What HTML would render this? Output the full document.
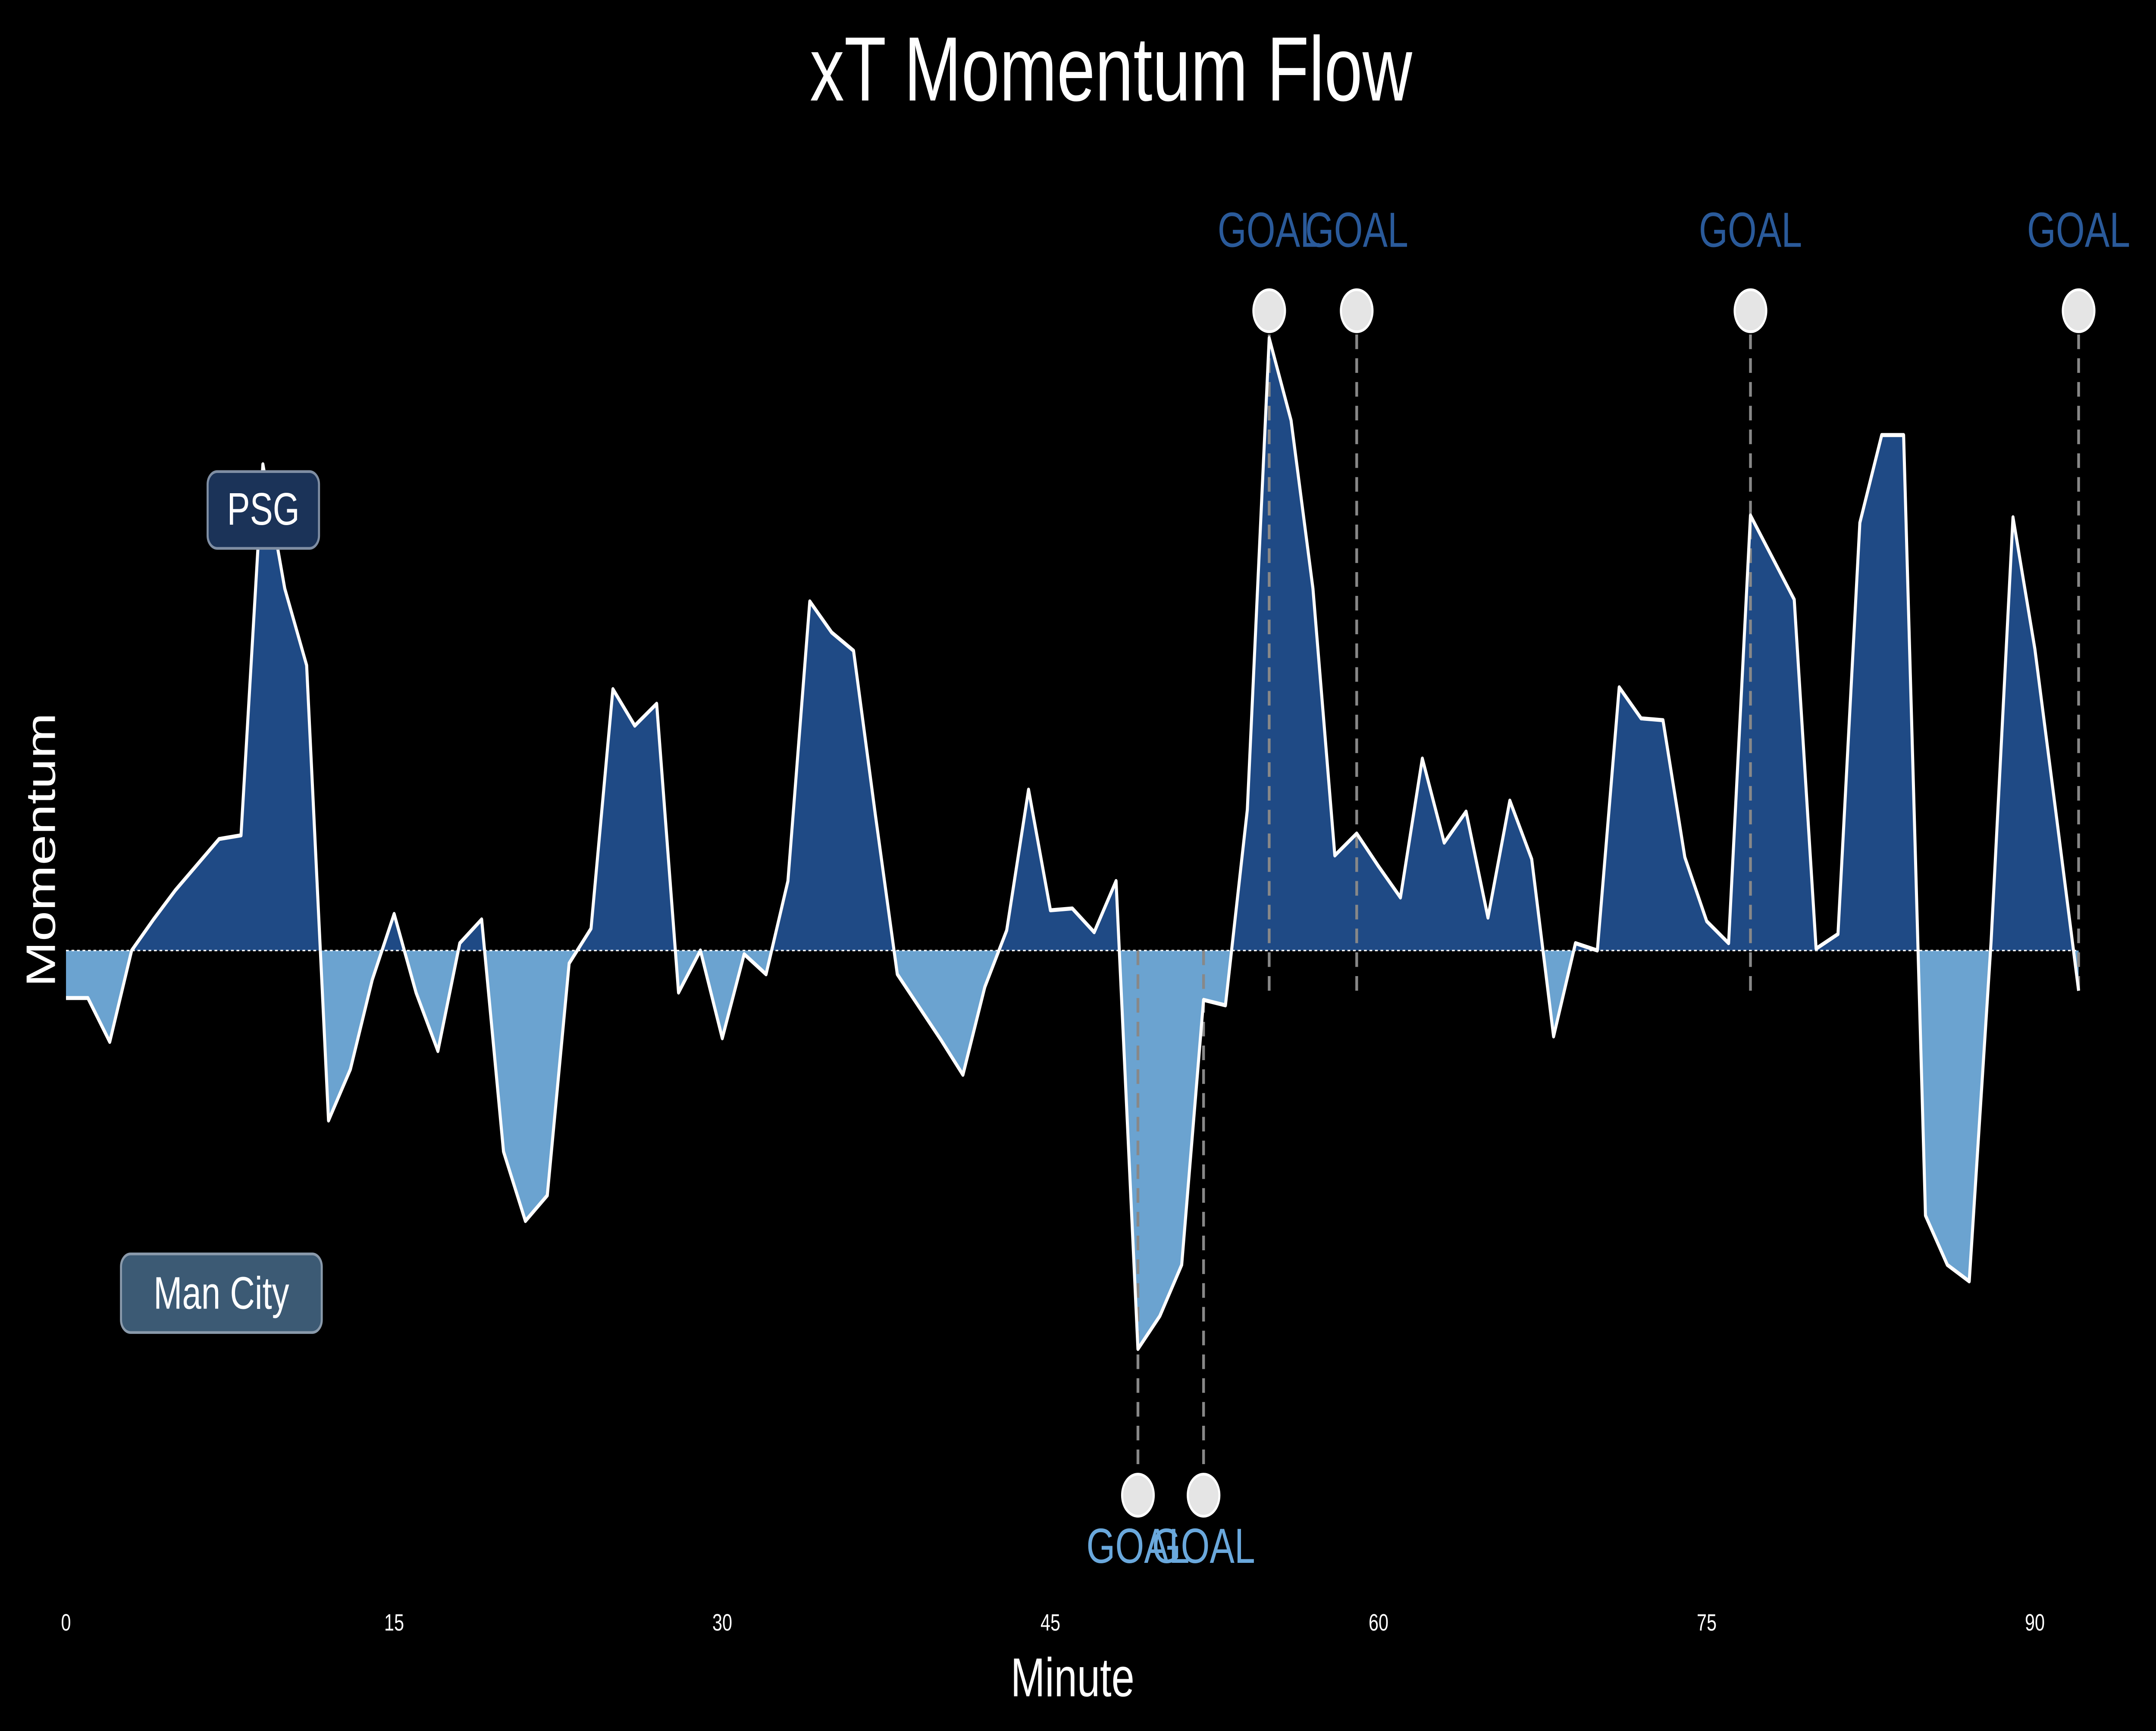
<!DOCTYPE html>
<html><head><meta charset="utf-8">
<style>
html,body{margin:0;padding:0;background:#000;width:100%;height:100%;overflow:hidden;}
svg{display:block;position:absolute;left:0;top:0;width:100vw;height:100vh;}
text{font-family:"Liberation Sans","DejaVu Sans",sans-serif;}
</style></head>
<body>
<svg id="chart" viewBox="0 0 1568 947" preserveAspectRatio="none" xmlns="http://www.w3.org/2000/svg">
<rect x="0" y="0" width="1568" height="947" fill="#000"/>
<text x="808" y="55" font-size="50" fill="#fff" text-anchor="middle">xT Momentum Flow</text>
<text x="780" y="928" font-size="30" fill="#fff" text-anchor="middle">Minute</text>
<text x="40" y="465" font-size="30" fill="#fff" text-anchor="middle" transform="rotate(-90 40 465)">Momentum</text>
<g id="plot"></g>
<g>
<rect x="151" y="258" width="81" height="42" rx="7" fill="#1b3358" stroke="#7f8ea3" stroke-width="1.5"/>
<text x="191.5" y="287" font-size="25" fill="#fff" text-anchor="middle">PSG</text>
</g>
<g>
<rect x="88" y="686" width="146" height="43" rx="7" fill="#3c5a74" stroke="#8a9aab" stroke-width="1.5"/>
<text x="161" y="716" font-size="25" fill="#fff" text-anchor="middle">Man City</text>
</g>
</svg>
<script>
const minutes = [];
for (let i = 0; i <= 92; i++) minutes.push(i);
const momentum = [-26,-26,-50,0,17,33,47,61,63,266,198,156,-93,-65,-16,20,-23,-55,4,17,-110,-148,-134,-7,12,143,123,135,-23,0,-48,-2,-13,38,191,174,164,74,-13,-31,-49,-68,-20,11,88,22,23,10,38,-218,-200,-172,-27,-30,77,335,290,198,52,64,46,29,105,59,76,18,82,50,-47,4,0,144,127,126,51,16,4,238,215,192,1,9,234,282,282,-145,-172,-181,5,237,165,72,-22];
const psgGoals = [55,59,77,92];
const cityGoals = [49,52];
const xTicks = [0,15,30,45,60,75,90];

const NS = "http://www.w3.org/2000/svg";
const plot = document.getElementById('plot');
const xs = m => 48 + m * 15.91;
const ys = v => 520 - v;
function mk(tag, attrs){ const e=document.createElementNS(NS,tag); for(const k in attrs) e.setAttribute(k,attrs[k]); plot.appendChild(e); return e; }

const defs = mk('defs',{});
const cpA = document.createElementNS(NS,'clipPath'); cpA.setAttribute('id','above');
const rA = document.createElementNS(NS,'rect'); rA.setAttribute('x',0); rA.setAttribute('y',0); rA.setAttribute('width',1568); rA.setAttribute('height',ys(0)); cpA.appendChild(rA); defs.appendChild(cpA);
const cpB = document.createElementNS(NS,'clipPath'); cpB.setAttribute('id','below');
const rB = document.createElementNS(NS,'rect'); rB.setAttribute('x',0); rB.setAttribute('y',ys(0)); rB.setAttribute('width',1568); rB.setAttribute('height',947); cpB.appendChild(rB); defs.appendChild(cpB);

let line = '';
minutes.forEach((m,i)=>{ line += (i?'L':'M') + xs(m).toFixed(2) + ',' + ys(momentum[i]).toFixed(2) + ' '; });
const area = line + 'L' + xs(minutes[minutes.length-1]) + ',' + ys(0) + ' L' + xs(0) + ',' + ys(0) + ' Z';

const fa = mk('path',{d:area, fill:'#1f4a85', 'clip-path':'url(#above)'});


const fb = mk('path',{d:area, fill:'#6ba3d0', 'clip-path':'url(#below)'});


const zl = mk('line',{x1:xs(0), x2:xs(92), y1:ys(0), y2:ys(0), stroke:'#fff', 'stroke-width':0.8, 'stroke-dasharray':'2,2'});



psgGoals.forEach(g=>{
  const l = mk('line',{x1:xs(g), x2:xs(g), y1:170, y2:543, stroke:'#888', 'stroke-width':2, 'stroke-dasharray':'8,5'});
  
  
});
cityGoals.forEach(g=>{
  const l = mk('line',{x1:xs(g), x2:xs(g), y1:ys(0), y2:818, stroke:'#888', 'stroke-width':2, 'stroke-dasharray':'8,5'});
  
  
});

const ml = mk('path',{d:line, fill:'none', stroke:'#fff', 'stroke-width':2.2, 'stroke-linejoin':'round'});



psgGoals.forEach(g=>{
  const c = mk('circle',{cx:xs(g), cy:170, r:11.5, fill:'#e5e5e5', stroke:'#fff', 'stroke-width':1.5});
  
  
  const t = mk('text',{x:xs(g), y:135, 'font-size':27, fill:'#2a5a9a', 'text-anchor':'middle'});
  t.textContent = 'GOAL';
  
  
});
cityGoals.forEach(g=>{
  const c = mk('circle',{cx:xs(g), cy:818, r:11.5, fill:'#e5e5e5', stroke:'#fff', 'stroke-width':1.5});
  
  
  const t = mk('text',{x:xs(g), y:855, 'font-size':27, fill:'#6aa8dc', 'text-anchor':'middle'});
  t.textContent = 'GOAL';
  
  
});

xTicks.forEach(v=>{
  const t = mk('text',{x:xs(v), y:892, 'font-size':13, fill:'#fff', 'text-anchor':'middle'});
  t.textContent = v;
  
  
});
</script>
</body></html>
